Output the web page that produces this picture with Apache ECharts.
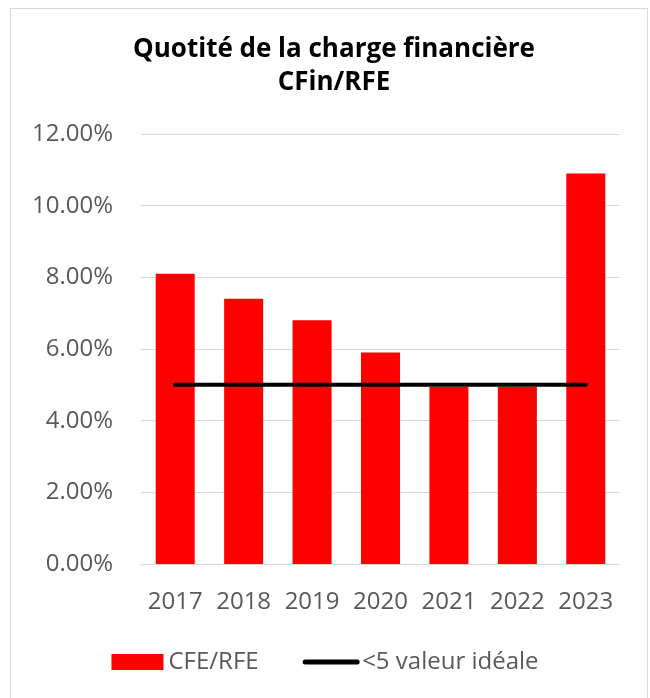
<!DOCTYPE html>
<html>
<head>
<meta charset="utf-8">
<script src="https://cdn.jsdelivr.net/npm/echarts@6/dist/echarts.min.js"></script>
<style>
  html, body { margin: 0; padding: 0; background: #fff; }
  #frame {
    position: absolute; left: 10px; top: 8px;
    width: 638px; height: 700px;
    border: 1px solid #d9d9d9; box-sizing: border-box;
  }
  #chart { position: absolute; left: 0; top: 0; width: 650px; height: 698px; }
</style>
</head>
<body>
<div id="frame"></div>
<div id="chart"></div>
<script>
// donnees
const years = ["2017", "2018", "2019", "2020", "2021", "2022", "2023"];
const cfeRfe = [8.1, 7.4, 6.8, 5.9, 4.95, 4.95, 10.9];
const ideal = [5, 5, 5, 5, 5, 5, 5];

const font = "'Open Sans', 'Noto Sans', sans-serif";

const option = {
  animation: false,
  title: {
    text: "Quotité de la charge financière\nCFin/RFE",
    left: 329,
    textAlign: "center",
    top: 28,
    textStyle: {
      fontFamily: font,
      fontSize: 26,
      fontWeight: "bold",
      color: "#000",
      lineHeight: 33
    }
  },
  grid: {
    left: 141,
    right: 30,
    top: 134,
    bottom: 134
  },
  legend: {
    top: 645,
    left: "center",
    itemGap: 44,
    itemWidth: 52,
    itemHeight: 16,
    textStyle: { fontFamily: font, fontSize: 24, color: "#595959" },
    data: [
      { name: "CFE/RFE", icon: "rect" },
      { name: "<5 valeur idéale", itemStyle: { color: "transparent", borderWidth: 0 }, lineStyle: { width: 5 } }
    ]
  },
  xAxis: {
    type: "category",
    data: years,
    axisLine: { lineStyle: { color: "#d9d9d9", width: 1 } },
    axisTick: { show: false },
    axisLabel: { interval: 0, fontFamily: font, fontSize: 24, color: "#595959", margin: 26 }
  },
  yAxis: {
    type: "value",
    min: 0,
    max: 12,
    interval: 2,
    axisLine: { show: false },
    axisTick: { show: false },
    splitLine: { lineStyle: { color: "#d9d9d9", width: 1 } },
    axisLabel: {
      fontFamily: font,
      fontSize: 24,
      color: "#595959",
      margin: 28,
      formatter: v => v.toFixed(2) + "%"
    }
  },
  series: [
    {
      name: "CFE/RFE",
      type: "bar",
      data: cfeRfe,
      barWidth: "57%",
      itemStyle: { color: "#ff0000" }
    },
    {
      name: "<5 valeur idéale",
      type: "line",
      data: ideal,
      symbol: "none",
      lineStyle: { color: "#000", width: 4, cap: "round" },
      itemStyle: { color: "#000" }
    }
  ]
};

const chart = echarts.init(document.getElementById("chart"));
chart.setOption(option);
</script>
</body>
</html>
